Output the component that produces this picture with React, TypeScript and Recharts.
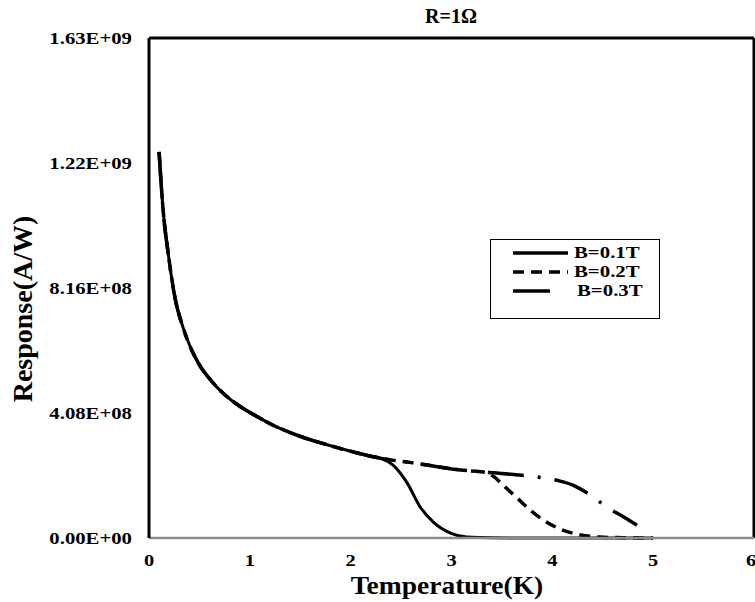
import { LineChart, Line, XAxis, YAxis, Legend, ReferenceLine } from 'recharts';

// common low-temperature branch (K, A/W)
const commonT = [0.1, 0.14, 0.19, 0.26, 0.34, 0.5, 0.6, 0.75, 0.9, 1.0, 1.25, 1.5, 1.75, 2.0, 2.2, 2.3];
const commonR = [12.6e8, 10.7e8, 9.3e8, 7.8e8, 6.85e8, 5.65e8, 5.2e8, 4.68e8, 4.3e8, 4.1e8, 3.65e8, 3.32e8, 3.06e8, 2.83e8, 2.67e8, 2.6e8];

const b01T = [2.42, 2.56, 2.69, 2.82, 2.99, 3.15, 3.4, 4.0, 5.0];
const b01R = [2.38e8, 1.8e8, 1.01e8, 0.52e8, 0.16e8, 0.03e8, 0.005e8, 0, 0];

const midT = [2.6, 2.76, 3.09, 3.3];
const midR = [2.46e8, 2.38e8, 2.22e8, 2.16e8];

const b02T = [3.35, 3.43, 3.51, 3.65, 3.78, 3.91, 4.08, 4.28, 4.47, 4.7, 5.0];
const b02R = [2.13e8, 1.98e8, 1.73e8, 1.31e8, 0.91e8, 0.59e8, 0.29e8, 0.1e8, 0.03e8, 0.01e8, 0];

const b03T = [3.45, 3.66, 3.85, 4.05, 4.21, 4.37, 4.54, 4.7, 4.84];
const b03R = [2.12e8, 2.06e8, 1.99e8, 1.88e8, 1.72e8, 1.42e8, 1.01e8, 0.7e8, 0.42e8];

const xTicks = [0, 1, 2, 3, 4, 5, 6];
const yTicks = [0, 4.08e8, 8.16e8, 1.224e9, 1.632e9];

const seriesNames = ['B=0.1T', 'B=0.2T', 'B=0.3T'];

const toPts = (t: number[], r: number[]) => t.map((x, i) => ({ t: x, r: r[i] }));
const common = toPts(commonT, commonR);
const mid = toPts(midT, midR);
const s01 = [...common, ...toPts(b01T, b01R)];
const s02 = [...common, ...mid, ...toPts(b02T, b02R)];
const s03 = [...common, ...mid, ...toPts(b03T, b03R)];

const FONT = '"Times New Roman", "Liberation Serif", serif';
const DASH2 = '11 7';
const DASH3 = '36 14 3 14';

const fmtExp = (v: number) => {
  const [m, e] = v.toExponential(2).split('e');
  const n = parseInt(e, 10);
  return `${m}E${n < 0 ? '-' : '+'}${String(Math.abs(n)).padStart(2, '0')}`;
};

// text in the source image is a bit wider than Times, so stretch it horizontally
const YTick = (p: any) => (
  <g transform={`translate(${p.x},${p.y})`}>
    <text transform="scale(1.22,1)" textAnchor="end" dy="0.35em" fontFamily={FONT} fontWeight="bold" fontSize={17} fill="#000">
      {fmtExp(p.payload.value)}
    </text>
  </g>
);

const XTick = (p: any) => (
  <g transform={`translate(${p.x},${p.y})`}>
    <text transform="scale(1.2,1)" textAnchor="middle" dy="0.71em" fontFamily={FONT} fontWeight="bold" fontSize={17} fill="#000">
      {p.payload.value}
    </text>
  </g>
);

const LegendBox = () => {
  const dashes = [undefined, DASH2, '37 100'];
  const rowY = [14, 33, 52];
  return (
    <div
      style={{
        position: 'relative',
        width: 170,
        height: 80,
        boxSizing: 'border-box',
        border: '1.5px solid #000',
        background: '#fff',
        fontFamily: FONT,
        fontWeight: 'bold',
        fontSize: 16,
      }}
    >
      {seriesNames.map((n, i) => (
        <div key={n}>
          <svg width={60} height={10} style={{ position: 'absolute', left: 20, top: rowY[i] - 6 }}>
            <line x1={2} y1={5} x2={57} y2={5} stroke="#000" strokeWidth={3.5} strokeDasharray={dashes[i]} />
          </svg>
          <span
            style={{
              position: 'absolute',
              left: i === 2 ? 86 : 83,
              top: rowY[i] - 11,
              lineHeight: '20px',
              whiteSpace: 'nowrap',
              transform: 'scaleX(1.3)',
              transformOrigin: 'left center',
            }}
          >
            {n}
          </span>
        </div>
      ))}
    </div>
  );
};

export default function App() {
  return (
    <div style={{ position: 'absolute', left: 0, top: 0, width: 755, height: 602, background: '#fff' }}>
      <div
        style={{
          position: 'absolute',
          left: 351,
          top: 4,
          width: 200,
          textAlign: 'center',
          fontFamily: FONT,
          fontWeight: 'bold',
          fontSize: 20,
          lineHeight: '24px',
          color: '#000',
          zIndex: 1,
        }}
      >
        R=1Ω
      </div>
      <LineChart width={755} height={602} margin={{ top: 38, right: 1, bottom: 0, left: 0 }}>
        <XAxis
          dataKey="t"
          type="number"
          domain={[0, 6]}
          ticks={xTicks}
          allowDataOverflow
          height={64}
          tickLine={false}
          tickSize={0}
          tickMargin={16}
          axisLine={{ stroke: '#8c8c8c', strokeWidth: 2.5 }}
          tick={<XTick />}
          label={() => (
            <text x={447} y={594} textAnchor="middle" fontFamily={FONT} fontWeight="bold" fontSize={25} fill="#000" transform="translate(447,0) scale(1.1,1) translate(-447,0)">
              Temperature(K)
            </text>
          )}
        />
        <YAxis
          type="number"
          domain={[0, 1.632e9]}
          ticks={yTicks}
          width={149}
          tickLine={false}
          tickSize={0}
          tickMargin={17}
          axisLine={{ stroke: '#000', strokeWidth: 3 }}
          tick={<YTick />}
          label={() => (
            <text
              x={22}
              y={309}
              transform="rotate(-90 22 309)"
              textAnchor="middle"
              dominantBaseline="central"
              fontFamily={FONT}
              fontWeight="bold"
              fontSize={28}
              fill="#000"
            >
              Response(A/W)
            </text>
          )}
        />
        <ReferenceLine y={1.632e9} stroke="#000" strokeWidth={3} />
        <ReferenceLine x={6} stroke="#000" strokeWidth={3} />
        <Legend
          layout="horizontal"
          verticalAlign="middle"
          align="center"
          content={<LegendBox />}
          wrapperStyle={{ position: 'absolute', left: 490, top: 239, width: 170, height: 80 }}
        />
        <Line
          data={s01}
          dataKey="r"
          name={seriesNames[0]}
          type="monotone"
          stroke="#000"
          strokeWidth={3}
          dot={false}
          isAnimationActive={false}
        />
        <Line
          data={s02}
          dataKey="r"
          name={seriesNames[1]}
          type="monotone"
          stroke="#000"
          strokeWidth={3.5}
          strokeDasharray={DASH2}
          dot={false}
          isAnimationActive={false}
        />
        <Line
          data={s03}
          dataKey="r"
          name={seriesNames[2]}
          type="monotone"
          stroke="#000"
          strokeWidth={3.5}
          strokeDasharray={DASH3}
          dot={false}
          isAnimationActive={false}
        />
      </LineChart>
    </div>
  );
}
